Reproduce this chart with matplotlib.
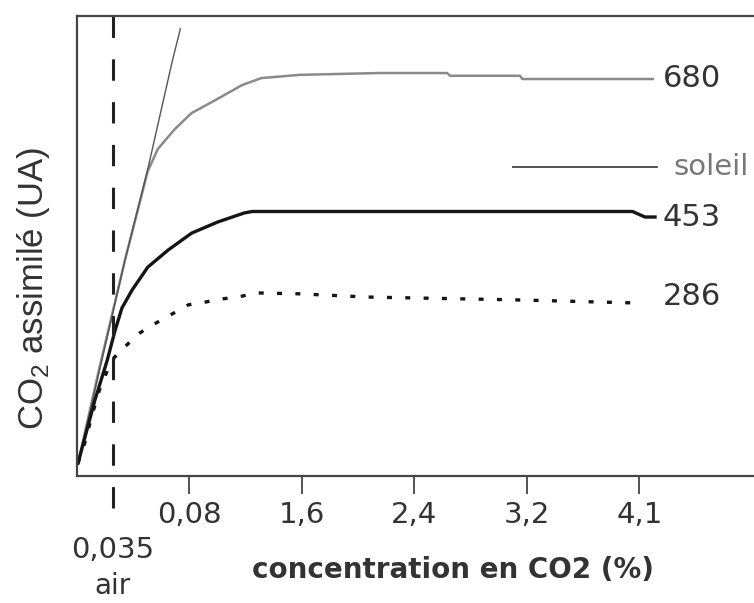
import matplotlib
matplotlib.use('Agg')
import matplotlib.pyplot as plt

# ── Data (x in axis positions: 1..5 = tick labels, y in arbitrary units) ─────
TICK_POS    = [1, 2, 3, 4, 5]
TICK_LABELS = ['0,08', '1,6', '2,4', '3,2', '4,1']
AIR_X       = 0.32   # 0,035 %

x_680 = [0.01, 0.20, 0.43, 0.63, 0.72, 0.87, 1.02, 1.23, 1.47, 1.64, 1.98,
         2.69, 3.29, 3.32, 3.94, 3.96, 5.12]
y_680 = [2.8, 23.5, 47.2, 66.3, 71.1, 75.4, 78.9, 81.7, 85.0, 86.5, 87.2,
         87.6, 87.6, 87.0, 87.0, 86.3, 86.3]

x_453 = [0.01, 0.16, 0.27, 0.34, 0.40, 0.49, 0.63, 0.81, 1.02, 1.25, 1.49,
         1.56, 4.94, 5.05, 5.14]
y_453 = [2.8, 16.5, 25.2, 31.7, 36.5, 40.4, 45.4, 49.1, 52.8, 55.2, 57.2,
         57.5, 57.5, 56.3, 56.3]

x_286 = [0.01, 0.07, 0.13, 0.20, 0.28, 0.33, 0.38, 0.47, 0.56, 0.67, 0.78,
         0.99, 1.14, 1.29, 1.43, 1.60, 1.98, 2.58, 3.88, 5.00]
y_286 = [2.8, 7.2, 12.8, 18.7, 23.5, 25.7, 27.0, 29.1, 31.1, 32.8, 34.3,
         37.2, 37.8, 38.5, 38.9, 39.8, 39.6, 38.9, 38.3, 37.6]

x_soleil = [0.01, 0.43, 0.63, 0.85, 0.92]
y_soleil = [2.8, 47.2, 66.7, 90.4, 97.2]

TXT = '#333333'

fig = plt.figure(figsize=(7.54, 6.03), dpi=100)
ax = fig.add_axes([0.102, 0.2106, 0.898, 0.7629])
ax.set_xlim(0, 6.02)
ax.set_ylim(0, 100)

ax.plot(x_680, y_680, color='#8a8a8a', lw=1.8)
ax.plot(x_soleil, y_soleil, color='#555555', lw=1.0)
ax.plot(x_453, y_453, color='#151515', lw=2.4)
ax.plot(x_286, y_286, color='#151515', lw=2.4, linestyle=(0, (1.5, 4)))

# air line (dashed, runs below the axis)
ax.plot([AIR_X, AIR_X], [-7, 100], color='#222222', lw=2.2,
        linestyle=(0, (7, 7)), clip_on=False)

# soleil legend stroke
ax.plot([3.88, 5.16], [67.2, 67.2], color='#444444', lw=1.3)

ax.text(5.21, 86.5, '680', color=TXT, fontsize=22, va='center')
ax.text(5.30, 67.2, 'soleil', color='#777777', fontsize=21, va='center')
ax.text(5.21, 56.3, '453', color=TXT, fontsize=22, va='center')
ax.text(5.21, 39.1, '286', color=TXT, fontsize=22, va='center')

ax.set_xticks(TICK_POS)
ax.set_xticklabels(TICK_LABELS, fontsize=21, color=TXT)
ax.tick_params(axis='x', length=13, width=1.3, color='#444444', pad=5)
ax.set_yticks([])

ax.text(AIR_X, -16.1, '0,035', fontsize=21, color=TXT, ha='center', va='center')
ax.text(AIR_X, -24.0, 'air', fontsize=20, color=TXT, ha='center', va='center')
ax.text(3.34, -20.4, 'concentration en CO2 (%)', fontsize=20, fontweight='bold',
        color=TXT, ha='center', va='center')

plt.rcParams['mathtext.fontset'] = 'custom'
plt.rcParams['mathtext.rm'] = 'Liberation Sans'
fig.text(0.044, 0.522, r'CO$_\mathregular{2}$ assimilé (UA)', rotation=90,
         fontsize=25, family='Liberation Sans', color=TXT, ha='center', va='center')

for s in ['left', 'top', 'bottom']:
    ax.spines[s].set_color('#444444')
    ax.spines[s].set_linewidth(1.6)
ax.spines['right'].set_visible(False)

fig.savefig('out.png', dpi=100)
